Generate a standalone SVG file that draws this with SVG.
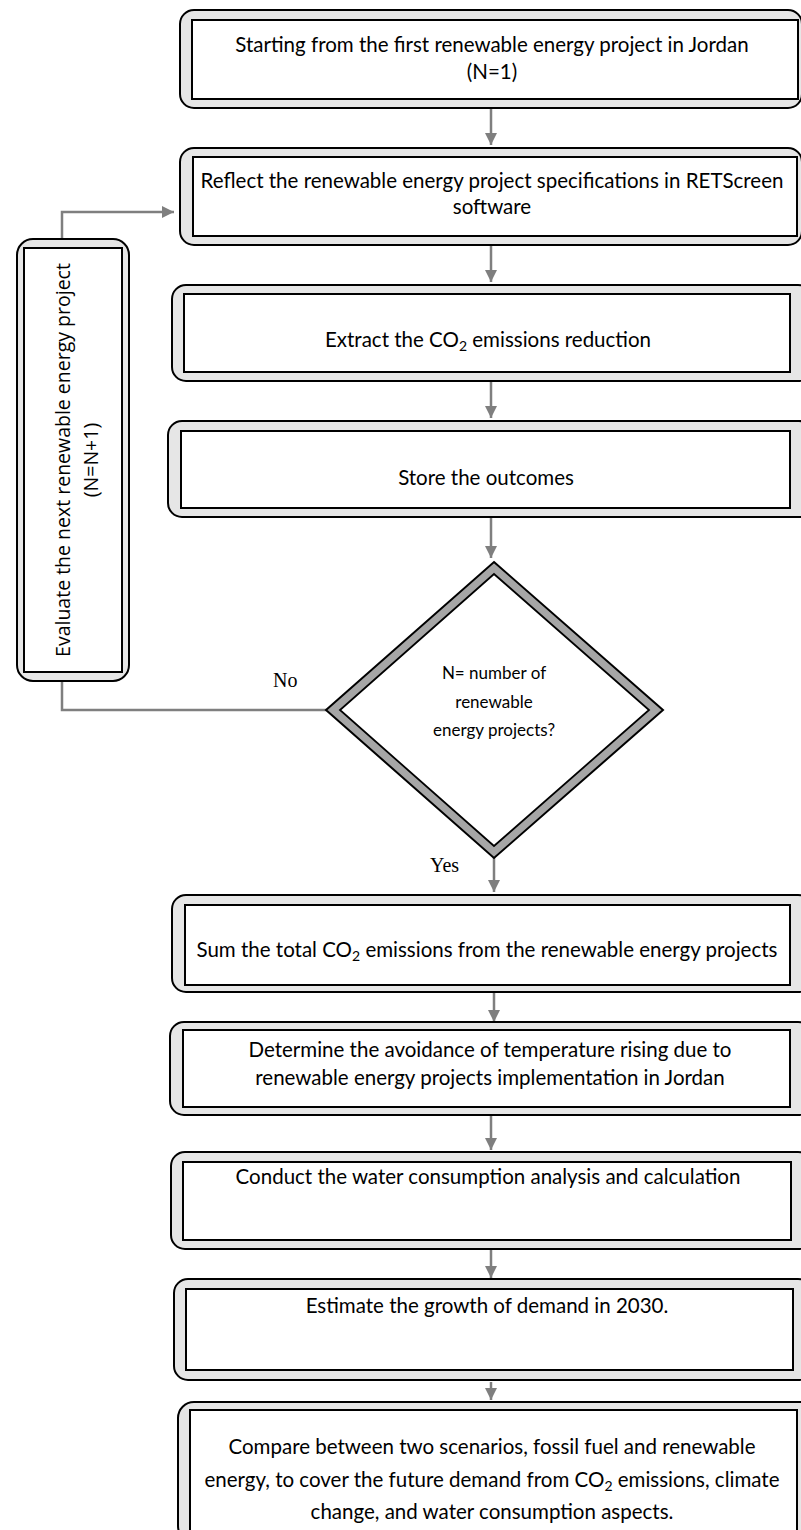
<svg xmlns="http://www.w3.org/2000/svg" width="801" height="1530" viewBox="0 0 801 1530">
<style>
.outer{fill:#e6e6e6;stroke:#000;stroke-width:2}
.inner{fill:#fff;stroke:#000;stroke-width:2}
.t{font-family:Lato,"Liberation Sans",sans-serif;font-size:20.5px;fill:#000;text-anchor:middle}
.v{font-family:"Open Sans","DejaVu Sans",sans-serif;font-size:19.5px;fill:#000;text-anchor:middle}
.lbl{font-family:"Liberation Serif",serif;font-size:20px;fill:#000}
.c{fill:none;stroke:#7f7f7f;stroke-width:2.5}
.sub{font-size:14px}
</style>
<defs>
<marker id="ah" viewBox="0 0 10 10" refX="10" refY="5" markerWidth="5" markerHeight="5" orient="auto" markerUnits="strokeWidth">
<path d="M0,0 L10,5 L0,10 z" fill="#7f7f7f"/>
</marker>
</defs>
<g id="connectors">
<path class="c" d="M491,108 V145" marker-end="url(#ah)"/>
<path class="c" d="M491,245 V282" marker-end="url(#ah)"/>
<path class="c" d="M491,381 V418" marker-end="url(#ah)"/>
<path class="c" d="M491,517 V558" marker-end="url(#ah)"/>
<path class="c" d="M494,856 V892" marker-end="url(#ah)"/>
<path class="c" d="M494,992 V1022" marker-end="url(#ah)"/>
<path class="c" d="M491,1115 V1150" marker-end="url(#ah)"/>
<path class="c" d="M491,1250 V1278" marker-end="url(#ah)"/>
<path class="c" d="M491,1382 V1400" marker-end="url(#ah)"/>
<path class="c" d="M328,710 H62 V681"/>
<path class="c" d="M62,239 V212 H174" marker-end="url(#ah)"/>
</g>
<g id="n1">
<rect class="outer" x="180" y="10" width="622" height="98" rx="14"/>
<rect class="inner" x="192" y="20" width="606" height="79"/>
<text class="t" x="492" y="52">Starting from the first renewable energy project in Jordan</text>
<text class="t" x="492" y="79">(N=1)</text>
</g>
<g id="n2">
<rect class="outer" x="180" y="148" width="622" height="97" rx="14"/>
<rect class="inner" x="193" y="157" width="604" height="79"/>
<text class="t" x="492" y="188">Reflect the renewable energy project specifications in RETScreen</text>
<text class="t" x="492" y="214">software</text>
</g>
<g id="n3">
<rect class="outer" x="172" y="285" width="640" height="96" rx="14"/>
<rect class="inner" x="184" y="294" width="606" height="78"/>
<text class="t" x="488" y="347">Extract the CO<tspan class="sub" dy="4">2</tspan><tspan dy="-4"> emissions reduction</tspan></text>
</g>
<g id="n4">
<rect class="outer" x="168" y="421" width="645" height="96" rx="14"/>
<rect class="inner" x="181" y="431" width="609" height="77"/>
<text class="t" x="486" y="485">Store the outcomes</text>
</g>
<g id="n5">
<polygon points="494,562 663,710 494,858 326,710" fill="#a6a6a6" stroke="#000" stroke-width="2"/>
<polygon points="494,574 649,710 494,846 340,710" fill="#fff" stroke="#000" stroke-width="1.8"/>
<text class="t" x="494" y="679" style="font-size:17px">N= number of</text>
<text class="t" x="494" y="708" style="font-size:17px">renewable</text>
<text class="t" x="494" y="736" style="font-size:17px">energy projects?</text>
</g>
<g id="n6">
<rect class="outer" x="17" y="239" width="112" height="442" rx="16"/>
<rect class="inner" x="24" y="248" width="98" height="424"/>
<text class="v" transform="translate(70,460) rotate(-90)">Evaluate the next renewable energy project</text>
<text class="v" transform="translate(98,460) rotate(-90)">(N=N+1)</text>
</g>
<g id="labels">
<text class="lbl" x="273" y="687">No</text>
<text class="lbl" x="430" y="872">Yes</text>
</g>
<g id="n7">
<rect class="outer" x="172" y="895" width="640" height="97" rx="14"/>
<rect class="inner" x="185" y="905" width="605" height="80"/>
<text class="t" x="487" y="957">Sum the total CO<tspan class="sub" dy="4">2</tspan><tspan dy="-4"> emissions from the renewable energy projects</tspan></text>
</g>
<g id="n8">
<rect class="outer" x="170" y="1022" width="642" height="93" rx="14"/>
<rect class="inner" x="183" y="1030" width="607" height="77"/>
<text class="t" x="490" y="1057">Determine the avoidance of temperature rising due to</text>
<text class="t" x="490" y="1085">renewable energy projects implementation in Jordan</text>
</g>
<g id="n9">
<rect class="outer" x="171" y="1152" width="641" height="97" rx="14"/>
<rect class="inner" x="183" y="1162" width="608" height="78"/>
<text class="t" x="488" y="1184">Conduct the water consumption analysis and calculation</text>
</g>
<g id="n10">
<rect class="outer" x="174" y="1279" width="638" height="101" rx="14"/>
<rect class="inner" x="186" y="1289" width="607" height="81"/>
<text class="t" x="487" y="1313">Estimate the growth of demand in 2030.</text>
</g>
<g id="n11">
<rect class="outer" x="178" y="1402" width="640" height="140" rx="16"/>
<rect class="inner" x="190" y="1410" width="607" height="130"/>
<text class="t" x="492" y="1454">Compare between two scenarios, fossil fuel and renewable</text>
<text class="t" x="492" y="1487">energy, to cover the future demand from CO<tspan class="sub" dy="4">2</tspan><tspan dy="-4"> emissions, climate</tspan></text>
<text class="t" x="492" y="1519">change, and water consumption aspects.</text>
</g>
</svg>
